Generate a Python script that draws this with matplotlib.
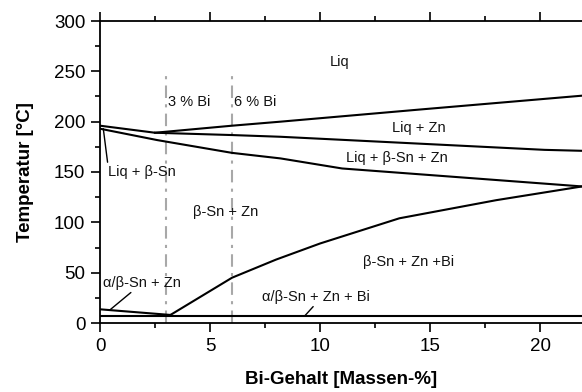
import matplotlib.pyplot as plt

plt.rcParams['font.family'] = ['Liberation Sans', 'DejaVu Sans']

# phase boundaries, Bi content in mass-% vs temperature in degC
liquidus_x = [0, 2.5, 6, 8.2, 14.5, 22]
liquidus_T = [196, 189, 196, 200, 212, 226]

liq_zn_x = [2.5, 6, 8.2, 20.2, 22]
liq_zn_T = [189, 186.7, 185, 172, 171]

solidus_sn_x = [0, 2.6, 6, 8.2, 11, 22]
solidus_sn_T = [193, 181.7, 169, 163.5, 153.5, 135.5]

bi_solvus_x = [3.2, 6, 8, 10, 13.6, 18, 22]
bi_solvus_T = [8, 45, 63, 79, 104, 122, 136]

alpha_beta_x = [0, 3.2]
alpha_beta_T = [13.6, 8]

transform_x = [0, 22]
transform_T = [7, 7]

sections = [3, 6]
section_labels = ['3 % Bi', '6 % Bi']

fig = plt.figure(figsize=(5.82, 3.92), dpi=100)
ax = fig.add_axes([100/582, 1 - 323/392, 1 - 100/582, (323 - 21)/392])

for x, lab in zip(sections, section_labels):
    ax.plot([x, x], [0, 246], color='#a8a8a8', lw=1.5, ls='-.', dashes=(6, 3, 1.5, 3))
    ax.text(x + 0.1, 220, lab, fontsize=10.5, va='center', ha='left', color='#111111')

for xs, ts in [(liquidus_x, liquidus_T), (liq_zn_x, liq_zn_T),
               (solidus_sn_x, solidus_sn_T), (bi_solvus_x, bi_solvus_T),
               (alpha_beta_x, alpha_beta_T), (transform_x, transform_T)]:
    ax.plot(xs, ts, color='black', lw=1.5, solid_joinstyle='miter')

ax.text(10.9, 259, 'Liq', fontsize=10.5, ha='center', va='center', color='#111111')
ax.text(14.5, 194, 'Liq + Zn', fontsize=10.5, ha='center', va='center', color='#111111')
ax.text(13.5, 164, 'Liq + β-Sn + Zn', fontsize=10.5, ha='center', va='center', color='#111111')
ax.text(5.7, 110.5, 'β-Sn + Zn', fontsize=10.5, ha='center', va='center', color='#111111')
ax.text(14.0, 61, 'β-Sn + Zn +Bi', fontsize=10.5, ha='center', va='center', color='#111111')

arrow = dict(arrowstyle='-', color='black', lw=1.0, shrinkA=0, shrinkB=0)
ax.annotate('Liq + β-Sn', xy=(0.15, 193), xytext=(0.36, 150), fontsize=10.5,
            ha='left', va='center', color='#111111',
            arrowprops=dict(arrow, relpos=(0.0, 1.0)))
ax.annotate('α/β-Sn + Zn', xy=(0.45, 13), xytext=(0.14, 40), fontsize=10.5,
            ha='left', va='center', color='#111111',
            arrowprops=dict(arrow, relpos=(0.4, 0.0)))
ax.annotate('α/β-Sn + Zn + Bi', xy=(9.3, 7), xytext=(9.8, 26), fontsize=10.5,
            ha='center', va='center', color='#111111',
            arrowprops=dict(arrow, relpos=(0.5, 0.0)))

ax.set_xlim(0, 21.9)
ax.set_ylim(0, 300)
ax.set_xticks([0, 5, 10, 15, 20])
ax.set_xticks([2.5, 7.5, 12.5, 17.5], minor=True)
ax.set_yticks([0, 50, 100, 150, 200, 250, 300])
ax.set_yticks([25, 75, 125, 175, 225, 275], minor=True)
ax.tick_params(which='both', direction='out', width=1.2, labelsize=13.5,
               top=True, right=False, pad=4)
ax.tick_params(which='major', length=6.5)
ax.tick_params(which='minor', length=3.5)
ax.spines['right'].set_visible(False)
for s in ['left', 'bottom', 'top']:
    ax.spines[s].set_linewidth(1.3)

ax.set_xlabel('Bi-Gehalt [Massen-%]', fontsize=13.5, fontweight='bold', labelpad=12)
ax.set_ylabel('Temperatur [°C]', fontsize=13.5, fontweight='bold', labelpad=14)

fig.savefig('out.png', dpi=100)
